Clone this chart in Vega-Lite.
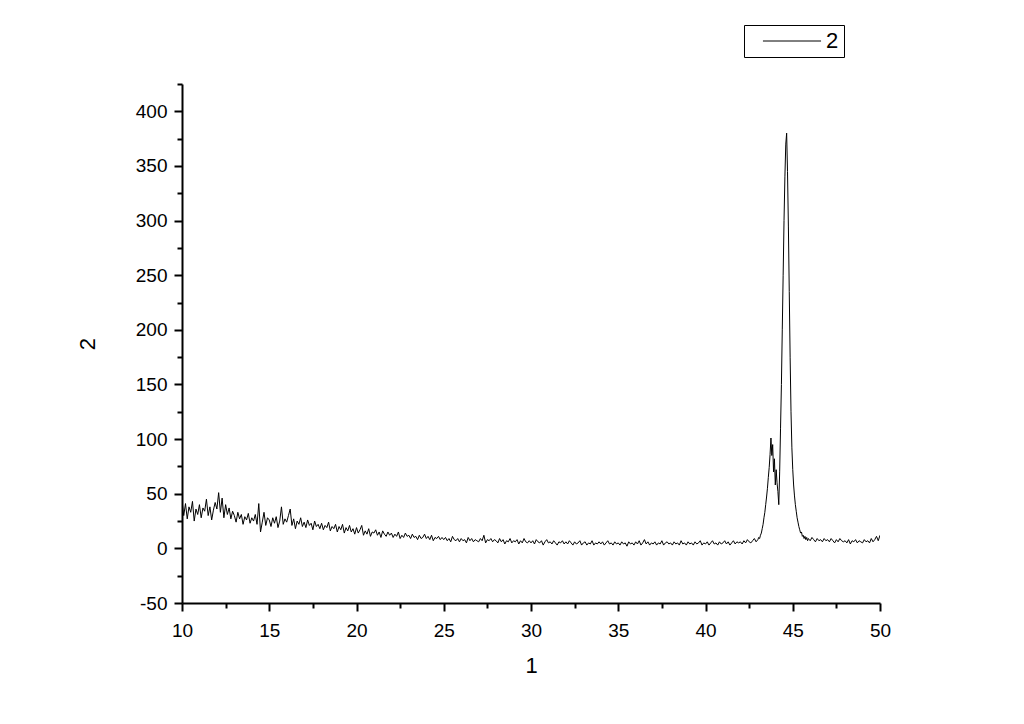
{
"$schema": "https://vega.github.io/schema/vega-lite/v6.json",
"width": 698, "height": 519,
"autosize": {"type": "none"},
"padding": {"left": 182, "top": 84, "right": 144, "bottom": 121},
"background": "white",
"config": {"view": {"stroke": null}, "font": "Liberation Sans"},
"datasets": {"xrd": [
{"x":10.0,"y":44},{"x":10.1,"y":30},{"x":10.2,"y":41},{"x":10.3,"y":27},{"x":10.4,"y":38},{"x":10.5,"y":33},{"x":10.6,"y":43},{"x":10.7,"y":25},{"x":10.8,"y":36},{"x":10.9,"y":31},
{"x":11.0,"y":40},{"x":11.1,"y":28},{"x":11.2,"y":37},{"x":11.3,"y":34},{"x":11.4,"y":45},{"x":11.5,"y":30},{"x":11.6,"y":38},{"x":11.7,"y":26},{"x":11.8,"y":35},{"x":11.9,"y":42},
{"x":12.0,"y":36},{"x":12.1,"y":51},{"x":12.2,"y":33},{"x":12.3,"y":46},{"x":12.4,"y":28},{"x":12.5,"y":40},{"x":12.6,"y":31},{"x":12.7,"y":37},{"x":12.8,"y":27},{"x":12.9,"y":34},
{"x":13.0,"y":30},{"x":13.1,"y":24},{"x":13.2,"y":33},{"x":13.3,"y":27},{"x":13.4,"y":31},{"x":13.5,"y":22},{"x":13.6,"y":29},{"x":13.7,"y":26},{"x":13.8,"y":32},{"x":13.9,"y":23},
{"x":14.0,"y":28},{"x":14.1,"y":25},{"x":14.2,"y":31},{"x":14.3,"y":22},{"x":14.4,"y":41},{"x":14.5,"y":15},{"x":14.6,"y":24},{"x":14.7,"y":33},{"x":14.8,"y":21},{"x":14.9,"y":28},
{"x":15.0,"y":26},{"x":15.1,"y":20},{"x":15.2,"y":28},{"x":15.3,"y":23},{"x":15.4,"y":29},{"x":15.5,"y":19},{"x":15.6,"y":25},{"x":15.7,"y":38},{"x":15.8,"y":22},{"x":15.9,"y":27},
{"x":16.0,"y":24},{"x":16.1,"y":30},{"x":16.2,"y":36},{"x":16.3,"y":21},{"x":16.4,"y":27},{"x":16.5,"y":18},{"x":16.6,"y":25},{"x":16.7,"y":22},{"x":16.8,"y":28},{"x":16.9,"y":20},
{"x":17.0,"y":24},{"x":17.1,"y":19},{"x":17.2,"y":26},{"x":17.3,"y":21},{"x":17.4,"y":23},{"x":17.5,"y":17},{"x":17.6,"y":25},{"x":17.7,"y":20},{"x":17.8,"y":22},{"x":17.9,"y":18},
{"x":18.0,"y":23},{"x":18.1,"y":17},{"x":18.2,"y":21},{"x":18.3,"y":19},{"x":18.4,"y":24},{"x":18.5,"y":16},{"x":18.6,"y":20},{"x":18.7,"y":18},{"x":18.8,"y":22},{"x":18.9,"y":15},
{"x":19.0,"y":20},{"x":19.1,"y":17},{"x":19.2,"y":22},{"x":19.3,"y":14},{"x":19.4,"y":19},{"x":19.5,"y":16},{"x":19.6,"y":21},{"x":19.7,"y":15},{"x":19.8,"y":18},{"x":19.9,"y":13},
{"x":20.0,"y":19},{"x":20.1,"y":14},{"x":20.2,"y":17},{"x":20.3,"y":21},{"x":20.4,"y":12},{"x":20.5,"y":16},{"x":20.6,"y":13},{"x":20.7,"y":18},{"x":20.8,"y":11},{"x":20.9,"y":15},
{"x":21.0,"y":14},{"x":21.1,"y":17},{"x":21.2,"y":12},{"x":21.3,"y":15},{"x":21.4,"y":10},{"x":21.5,"y":16},{"x":21.6,"y":13},{"x":21.7,"y":11},{"x":21.8,"y":15},{"x":21.9,"y":12},
{"x":22.0,"y":14},{"x":22.1,"y":10},{"x":22.2,"y":13},{"x":22.3,"y":11},{"x":22.4,"y":15},{"x":22.5,"y":9},{"x":22.6,"y":12},{"x":22.7,"y":10},{"x":22.8,"y":14},{"x":22.9,"y":11},
{"x":23.0,"y":12},{"x":23.1,"y":9},{"x":23.2,"y":13},{"x":23.3,"y":10},{"x":23.4,"y":11},{"x":23.5,"y":8},{"x":23.6,"y":12},{"x":23.7,"y":9},{"x":23.8,"y":10},{"x":23.9,"y":13},
{"x":24.0,"y":9},{"x":24.1,"y":11},{"x":24.2,"y":8},{"x":24.3,"y":12},{"x":24.4,"y":7},{"x":24.5,"y":10},{"x":24.6,"y":9},{"x":24.7,"y":11},{"x":24.8,"y":8},{"x":24.9,"y":10},
{"x":25.0,"y":8},{"x":25.1,"y":10},{"x":25.2,"y":7},{"x":25.3,"y":9},{"x":25.4,"y":6},{"x":25.5,"y":11},{"x":25.6,"y":8},{"x":25.7,"y":7},{"x":25.8,"y":9},{"x":25.9,"y":6},
{"x":26.0,"y":9},{"x":26.1,"y":7},{"x":26.2,"y":8},{"x":26.3,"y":5},{"x":26.4,"y":10},{"x":26.5,"y":7},{"x":26.6,"y":9},{"x":26.7,"y":6},{"x":26.8,"y":8},{"x":26.9,"y":7},
{"x":27.0,"y":6},{"x":27.1,"y":9},{"x":27.2,"y":7},{"x":27.3,"y":12},{"x":27.4,"y":5},{"x":27.5,"y":8},{"x":27.6,"y":7},{"x":27.7,"y":9},{"x":27.8,"y":6},{"x":27.9,"y":8},
{"x":28.0,"y":7},{"x":28.1,"y":5},{"x":28.2,"y":9},{"x":28.3,"y":6},{"x":28.4,"y":8},{"x":28.5,"y":4},{"x":28.6,"y":7},{"x":28.7,"y":6},{"x":28.8,"y":9},{"x":28.9,"y":5},
{"x":29.0,"y":7},{"x":29.1,"y":6},{"x":29.2,"y":8},{"x":29.3,"y":4},{"x":29.4,"y":7},{"x":29.5,"y":5},{"x":29.6,"y":9},{"x":29.7,"y":6},{"x":29.8,"y":5},{"x":29.9,"y":7},
{"x":30.0,"y":5},{"x":30.1,"y":7},{"x":30.2,"y":4},{"x":30.3,"y":8},{"x":30.4,"y":6},{"x":30.5,"y":5},{"x":30.6,"y":7},{"x":30.7,"y":3},{"x":30.8,"y":6},{"x":30.9,"y":8},
{"x":31.0,"y":5},{"x":31.1,"y":6},{"x":31.2,"y":4},{"x":31.3,"y":7},{"x":31.4,"y":5},{"x":31.5,"y":3},{"x":31.6,"y":6},{"x":31.7,"y":5},{"x":31.8,"y":7},{"x":31.9,"y":4},
{"x":32.0,"y":6},{"x":32.1,"y":4},{"x":32.2,"y":7},{"x":32.3,"y":5},{"x":32.4,"y":3},{"x":32.5,"y":6},{"x":32.6,"y":4},{"x":32.7,"y":5},{"x":32.8,"y":7},{"x":32.9,"y":3},
{"x":33.0,"y":5},{"x":33.1,"y":6},{"x":33.2,"y":3},{"x":33.3,"y":5},{"x":33.4,"y":4},{"x":33.5,"y":7},{"x":33.6,"y":3},{"x":33.7,"y":5},{"x":33.8,"y":4},{"x":33.9,"y":6},
{"x":34.0,"y":4},{"x":34.1,"y":6},{"x":34.2,"y":3},{"x":34.3,"y":5},{"x":34.4,"y":7},{"x":34.5,"y":4},{"x":34.6,"y":5},{"x":34.7,"y":3},{"x":34.8,"y":6},{"x":34.9,"y":4},
{"x":35.0,"y":5},{"x":35.1,"y":3},{"x":35.2,"y":6},{"x":35.3,"y":4},{"x":35.4,"y":5},{"x":35.5,"y":2},{"x":35.6,"y":6},{"x":35.7,"y":4},{"x":35.8,"y":5},{"x":35.9,"y":3},
{"x":36.0,"y":6},{"x":36.1,"y":4},{"x":36.2,"y":7},{"x":36.3,"y":3},{"x":36.4,"y":5},{"x":36.5,"y":8},{"x":36.6,"y":4},{"x":36.7,"y":6},{"x":36.8,"y":3},{"x":36.9,"y":5},
{"x":37.0,"y":4},{"x":37.1,"y":6},{"x":37.2,"y":3},{"x":37.3,"y":5},{"x":37.4,"y":4},{"x":37.5,"y":7},{"x":37.6,"y":3},{"x":37.7,"y":5},{"x":37.8,"y":6},{"x":37.9,"y":4},
{"x":38.0,"y":5},{"x":38.1,"y":3},{"x":38.2,"y":6},{"x":38.3,"y":4},{"x":38.4,"y":5},{"x":38.5,"y":3},{"x":38.6,"y":7},{"x":38.7,"y":4},{"x":38.8,"y":5},{"x":38.9,"y":3},
{"x":39.0,"y":6},{"x":39.1,"y":4},{"x":39.2,"y":5},{"x":39.3,"y":3},{"x":39.4,"y":6},{"x":39.5,"y":4},{"x":39.6,"y":5},{"x":39.7,"y":7},{"x":39.8,"y":3},{"x":39.9,"y":5},
{"x":40.0,"y":4},{"x":40.1,"y":6},{"x":40.2,"y":3},{"x":40.3,"y":5},{"x":40.4,"y":7},{"x":40.5,"y":4},{"x":40.6,"y":5},{"x":40.7,"y":3},{"x":40.8,"y":6},{"x":40.9,"y":4},
{"x":41.0,"y":5},{"x":41.1,"y":7},{"x":41.2,"y":4},{"x":41.3,"y":6},{"x":41.4,"y":3},{"x":41.5,"y":5},{"x":41.6,"y":7},{"x":41.7,"y":4},{"x":41.8,"y":6},{"x":41.9,"y":5},
{"x":42.0,"y":6},{"x":42.1,"y":4},{"x":42.2,"y":7},{"x":42.3,"y":5},{"x":42.4,"y":8},{"x":42.5,"y":6},{"x":42.6,"y":5},{"x":42.7,"y":7},{"x":42.8,"y":9},{"x":42.9,"y":6},
{"x":43.0,"y":8},{"x":43.05,"y":10},{"x":43.1,"y":9},{"x":43.15,"y":12},{"x":43.2,"y":14},{"x":43.25,"y":18},{"x":43.3,"y":22},{"x":43.35,"y":28},{"x":43.4,"y":33},{"x":43.45,"y":40},
{"x":43.5,"y":47},{"x":43.55,"y":55},{"x":43.6,"y":65},{"x":43.65,"y":74},{"x":43.7,"y":86},{"x":43.75,"y":101},{"x":43.8,"y":85},{"x":43.85,"y":95},{"x":43.9,"y":70},{"x":43.95,"y":82},
{"x":44.0,"y":58},{"x":44.05,"y":72},{"x":44.1,"y":60},{"x":44.15,"y":52},{"x":44.2,"y":40},{"x":44.25,"y":70},{"x":44.3,"y":110},{"x":44.35,"y":150},{"x":44.4,"y":200},{"x":44.45,"y":250},
{"x":44.5,"y":300},{"x":44.55,"y":340},{"x":44.6,"y":370},{"x":44.65,"y":380},{"x":44.7,"y":345},{"x":44.75,"y":295},{"x":44.8,"y":235},{"x":44.85,"y":175},{"x":44.9,"y":125},{"x":44.95,"y":92},
{"x":45.0,"y":72},{"x":45.05,"y":58},{"x":45.1,"y":48},{"x":45.15,"y":40},{"x":45.2,"y":34},{"x":45.25,"y":28},{"x":45.3,"y":24},{"x":45.35,"y":20},{"x":45.4,"y":17},{"x":45.45,"y":14},
{"x":45.5,"y":15},{"x":45.55,"y":11},{"x":45.6,"y":12},{"x":45.65,"y":9},{"x":45.7,"y":11},{"x":45.75,"y":8},{"x":45.8,"y":10},{"x":45.85,"y":7},{"x":45.9,"y":9},{"x":45.95,"y":8},
{"x":46.0,"y":7},{"x":46.1,"y":10},{"x":46.2,"y":8},{"x":46.3,"y":6},{"x":46.4,"y":9},{"x":46.5,"y":7},{"x":46.6,"y":8},{"x":46.7,"y":6},{"x":46.8,"y":9},{"x":46.9,"y":7},
{"x":47.0,"y":8},{"x":47.1,"y":6},{"x":47.2,"y":9},{"x":47.3,"y":7},{"x":47.4,"y":5},{"x":47.5,"y":8},{"x":47.6,"y":6},{"x":47.7,"y":9},{"x":47.8,"y":7},{"x":47.9,"y":6},
{"x":48.0,"y":7},{"x":48.1,"y":5},{"x":48.2,"y":8},{"x":48.3,"y":4},{"x":48.4,"y":7},{"x":48.5,"y":6},{"x":48.6,"y":8},{"x":48.7,"y":5},{"x":48.8,"y":7},{"x":48.9,"y":6},
{"x":49.0,"y":5},{"x":49.1,"y":8},{"x":49.2,"y":6},{"x":49.3,"y":7},{"x":49.4,"y":5},{"x":49.5,"y":9},{"x":49.6,"y":6},{"x":49.7,"y":8},{"x":49.8,"y":11},{"x":49.9,"y":7},
{"x":50.0,"y":12}
]},
"data": {"name": "xrd"},
"mark": {"type": "line", "strokeWidth": 1, "clip": true},
"encoding": {
  "x": {"field": "x", "type": "quantitative",
    "scale": {"domain": [10, 50], "nice": false, "zero": false},
    "axis": {"title": "1", "values": [10,12.5,15,17.5,20,22.5,25,27.5,30,32.5,35,37.5,40,42.5,45,47.5,50],
      "labelExpr": "datum.value % 5 == 0 ? '' + datum.value : ''",
      "tickSize": {"condition": {"test": "datum.value % 5 == 0", "value": 8}, "value": 5},
      "grid": false, "domainColor": "black", "domainWidth": 2, "tickColor": "black", "tickWidth": 2,
      "labelColor": "black", "labelFontSize": 19, "labelPadding": 10, "labelFlush": false,
      "titleFontSize": 22, "titleFontWeight": "normal", "titleColor": "black", "titlePadding": 15}},
  "y": {"field": "y", "type": "quantitative",
    "scale": {"domain": [-50, 425], "nice": false, "zero": false},
    "axis": {"title": "2", "values": [-50,-25,0,25,50,75,100,125,150,175,200,225,250,275,300,325,350,375,400,425],
      "labelExpr": "datum.value % 50 == 0 ? '' + datum.value : ''",
      "tickSize": {"condition": {"test": "datum.value % 50 == 0", "value": 8}, "value": 5},
      "grid": false, "domainColor": "black", "domainWidth": 2, "tickColor": "black", "tickWidth": 2,
      "labelColor": "black", "labelFontSize": 19, "labelPadding": 7, "labelFlush": false,
      "titleFontSize": 22, "titleFontWeight": "normal", "titleColor": "black", "titlePadding": 36}},
  "color": {"datum": "2", "type": "nominal", "scale": {"range": ["black"]},
    "legend": {"title": null, "orient": "none", "legendX": 562, "legendY": -59,
      "strokeColor": "black", "fillColor": "white", "padding": 5,
      "symbolType": "M-5,0H5", "symbolSize": 135, "symbolStrokeWidth": 1, "symbolStrokeColor": "black",
      "symbolOffset": 32, "labelFontSize": 22, "labelColor": "black", "labelOffset": 23,
      "labelExpr": "datum.label + '\u00a0'"}}
}
}
